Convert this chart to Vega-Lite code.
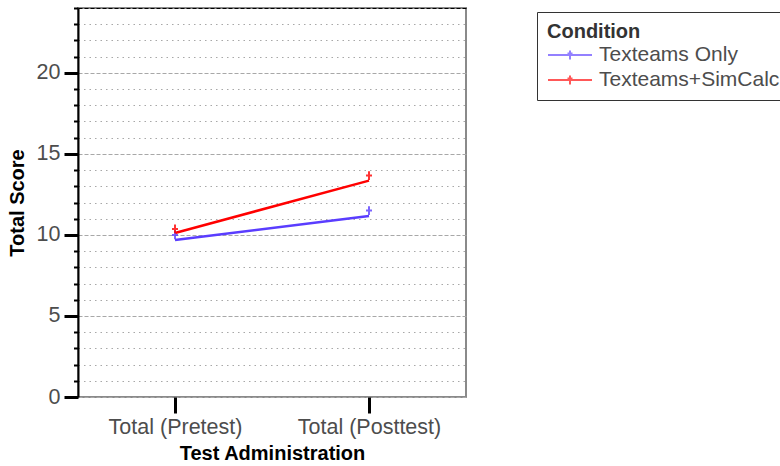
{
  "$schema": "https://vega.github.io/schema/vega-lite/v6.json",
  "autosize": {"type": "none"},
  "padding": {"left": 78, "top": 8, "right": 314, "bottom": 69},
  "width": 388,
  "height": 389,
  "background": "white",
  "config": {
    "font": "Liberation Sans",
    "view": {"stroke": "#8a8a8a", "strokeWidth": 2}
  },
  "data": {
    "values": [
      {"cond": "Texteams Only", "test": "Total (Pretest)", "kind": "line", "score": 9.69},
      {"cond": "Texteams Only", "test": "Total (Posttest)", "kind": "line", "score": 11.17},
      {"cond": "Texteams+SimCalc", "test": "Total (Pretest)", "kind": "line", "score": 10.12},
      {"cond": "Texteams+SimCalc", "test": "Total (Posttest)", "kind": "line", "score": 13.35},
      {"cond": "Texteams Only", "test": "Total (Pretest)", "kind": "mean", "score": 10.0},
      {"cond": "Texteams Only", "test": "Total (Posttest)", "kind": "mean", "score": 11.5},
      {"cond": "Texteams+SimCalc", "test": "Total (Pretest)", "kind": "mean", "score": 10.37},
      {"cond": "Texteams+SimCalc", "test": "Total (Posttest)", "kind": "mean", "score": 13.66}
    ]
  },
  "encoding": {
    "x": {
      "field": "test",
      "type": "nominal",
      "sort": ["Total (Pretest)", "Total (Posttest)"],
      "scale": {"type": "point", "padding": 0.5},
      "axis": {
        "title": "Test Administration",
        "titleFontSize": 20,
        "titleFontWeight": "bold",
        "titleColor": "black",
        "titlePadding": 6,
        "labelAngle": 0,
        "labelFontSize": 21.5,
        "labelColor": "#4d4d4d",
        "labelPadding": 3,
        "tickSize": 16,
        "tickWidth": 3,
        "tickColor": "black",
        "domain": false,
        "grid": false
      }
    },
    "y": {
      "field": "score",
      "type": "quantitative",
      "scale": {"domain": [0, 24], "nice": false, "zero": true},
      "axis": {
        "title": "Total Score",
        "titleFontSize": 20,
        "titleFontWeight": "bold",
        "titleColor": "black",
        "titlePadding": 9,
        "values": [0,1,2,3,4,5,6,7,8,9,10,11,12,13,14,15,16,17,18,19,20,21,22,23,24],
        "labelExpr": "datum.value % 5 === 0 && datum.value <= 20 ? datum.label : ''",
        "labelFontSize": 21.5,
        "labelColor": "#4d4d4d",
        "labelPadding": 4,
        "labelBaseline": "middle",
        "labelOverlap": false,
        "tickColor": "black",
        "tickSize": {"condition": {"test": "datum.value % 5 === 0", "value": 14}, "value": 4.5},
        "tickWidth": {"condition": {"test": "datum.value % 5 === 0", "value": 3}, "value": 2},
        "domain": true,
        "domainColor": "black",
        "domainWidth": 2,
        "grid": true,
        "gridColor": {"condition": {"test": "datum.value === 24", "value": "black"}, "value": "#a8a8a8"},
        "gridWidth": 1.2,
        "gridDash": {"condition": {"test": "datum.value % 5 === 0 || datum.value === 24", "value": [4, 2]}, "value": [1.5, 4]}
      }
    },
    "color": {
      "field": "cond",
      "type": "nominal",
      "scale": {"domain": ["Texteams Only", "Texteams+SimCalc"], "range": ["#5a3dff", "#ff0000"]},
      "legend": {
        "title": "Condition",
        "orient": "none",
        "legendX": 459,
        "legendY": 4,
        "titleFontSize": 20,
        "titleFontWeight": "bold",
        "titleColor": "#333333",
        "titlePadding": 2,
        "labelFontSize": 21,
        "labelColor": "#4d4d4d",
        "labelLimit": 0,
        "labelOffset": 30,
        "rowPadding": 4,
        "symbolType": "M-1,0H3.4M1.2,-0.45V0.45M0.95,-0.15H1.45",
        "symbolSize": 400,
        "symbolStrokeWidth": 2,
        "symbolOpacity": 0.65,
        "symbolFillColor": "transparent",
        "strokeColor": "#333333",
        "fillColor": "white",
        "padding": 10
      }
    }
  },
  "layer": [
    {
      "transform": [{"filter": "datum.kind === 'line'"}],
      "mark": {"type": "line", "strokeWidth": 2.5},
      "encoding": {"detail": {"field": "cond"}}
    },
    {
      "transform": [{"filter": "datum.kind === 'mean'"}],
      "mark": {"type": "point", "shape": "M-0.75,0H0.75M0,-1.1V1.1", "filled": false, "size": 64, "strokeWidth": 2, "opacity": 0.8},
      "encoding": {}
    }
  ]
}
